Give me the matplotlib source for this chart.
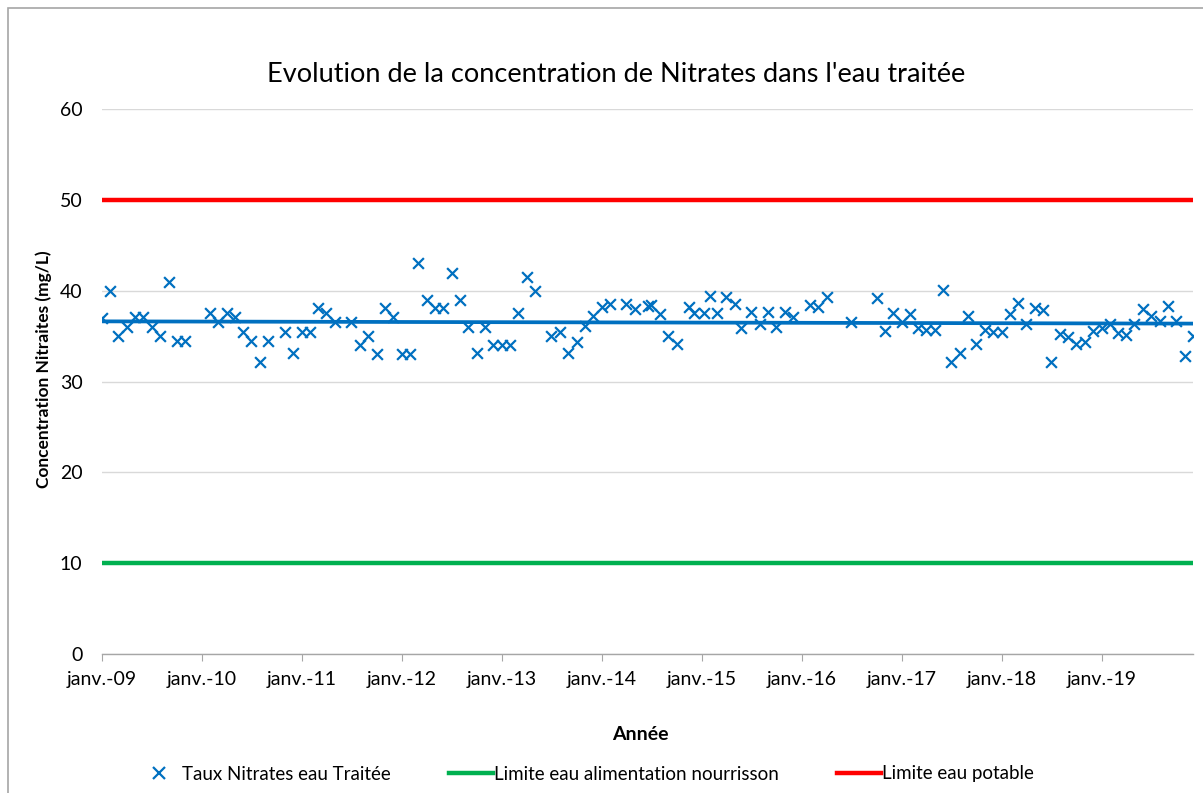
import matplotlib
matplotlib.use("Agg")
import matplotlib.pyplot as plt
import matplotlib.dates as mdates
import numpy as np
import pandas as pd
from matplotlib.lines import Line2D
from matplotlib.patches import Rectangle

plt.rcParams['font.family'] = ['Lato', 'DejaVu Sans']

dates = [
    "2009-01-01", "2009-02-01", "2009-03-01", "2009-04-01", "2009-05-01", "2009-06-01",
    "2009-07-01", "2009-08-01", "2009-09-01", "2009-10-01", "2009-11-01",
    "2010-02-01", "2010-03-01", "2010-04-01", "2010-05-01", "2010-06-01", "2010-07-01",
    "2010-08-01", "2010-09-01", "2010-11-01", "2010-12-01",
    "2011-01-01", "2011-02-01", "2011-03-01", "2011-04-01", "2011-05-01", "2011-07-01",
    "2011-08-01", "2011-09-01", "2011-10-01", "2011-11-01", "2011-12-01",
    "2012-01-01", "2012-02-01", "2012-03-01", "2012-04-01", "2012-05-01", "2012-06-01",
    "2012-07-01", "2012-08-01", "2012-09-01", "2012-10-01", "2012-11-01", "2012-12-01",
    "2013-01-01", "2013-02-01", "2013-03-01", "2013-04-01", "2013-05-01", "2013-07-01",
    "2013-08-01", "2013-09-01", "2013-10-01", "2013-11-01", "2013-12-01",
    "2014-01-01", "2014-02-01", "2014-04-01", "2014-05-01", "2014-06-18", "2014-07-01",
    "2014-08-01", "2014-09-01", "2014-10-01", "2014-11-15", "2014-12-05",
    "2015-01-10", "2015-02-01", "2015-02-26", "2015-04-01", "2015-05-01", "2015-05-25",
    "2015-07-01", "2015-08-01", "2015-09-01", "2015-10-01", "2015-11-01", "2015-12-01",
    "2016-02-01", "2016-03-01", "2016-04-01", "2016-07-01", "2016-10-01", "2016-11-01",
    "2016-12-01",
    "2017-01-01", "2017-02-01", "2017-03-01", "2017-04-01", "2017-05-01", "2017-06-01",
    "2017-07-01", "2017-08-01", "2017-09-01", "2017-10-01", "2017-11-01", "2017-12-01",
    "2018-01-01", "2018-02-01", "2018-03-01", "2018-04-01", "2018-05-01", "2018-06-01",
    "2018-07-01", "2018-08-01", "2018-09-01", "2018-10-01", "2018-11-01", "2018-12-01",
    "2019-01-01", "2019-02-01", "2019-03-01", "2019-04-01", "2019-05-01", "2019-06-01",
    "2019-07-01", "2019-08-01", "2019-09-01", "2019-10-01", "2019-11-01", "2019-12-01",
]
nitrates = [
    37.0, 40.0, 35.0, 36.0, 37.1, 37.1,
    36.0, 35.0, 41.0, 34.5, 34.5,
    37.5, 36.5, 37.5, 37.1, 35.5, 34.5,
    32.1, 34.5, 35.5, 33.1,
    35.5, 35.5, 38.1, 37.5, 36.5, 36.5,
    34.0, 35.0, 33.0, 38.1, 37.1,
    33.0, 33.0, 43.0, 39.0, 38.1, 38.1,
    42.0, 39.0, 36.0, 33.1, 36.0, 34.0,
    34.0, 34.0, 37.5, 41.5, 40.0, 35.0,
    35.4, 33.1, 34.4, 36.1, 37.2,
    38.2, 38.5, 38.5, 38.0, 38.3, 38.4,
    37.4, 35.0, 34.1, 38.2, 37.5,
    37.5, 39.4, 37.5, 39.3, 38.5, 35.9,
    37.6, 36.3, 37.6, 36.0, 37.6, 37.1,
    38.4, 38.2, 39.3, 36.5, 39.2, 35.6,
    37.5,
    36.5, 37.4, 35.9, 35.7, 35.7, 40.1,
    32.1, 33.1, 37.2, 34.1, 35.7, 35.5,
    35.5, 37.4, 38.6, 36.3, 38.1, 37.9,
    32.1, 35.2, 34.9, 34.1, 34.3, 35.6,
    35.9, 36.3, 35.3, 35.1, 36.3, 38.0,
    37.2, 36.7, 38.3, 36.7, 32.8, 35.0,
]
limite_nourrisson = 10
limite_potable = 50
tick_years = list(range(2009, 2020))
tick_labels = ["janv.-%02d" % (y % 100) for y in tick_years]

title = "Evolution de la concentration de Nitrates dans l'eau traitée"
xlabel = "Année"
ylabel = "Concentration Nitraites (mg/L)"
labels = ["Taux Nitrates eau Traitée", "Limite eau alimentation nourrisson", "Limite eau potable"]

blue = "#0070C0"
green = "#00B050"
red = "#FF0000"

W, H = 1203, 793
fig = plt.figure(figsize=(W / 100, H / 100), dpi=100)
ax = fig.add_axes([102 / W, 1 - 654 / H, (1193 - 102) / W, (654 - 109) / H])

x = pd.to_datetime(dates)
xn = mdates.date2num(x)
y = np.array(nitrates)

xmin, xmax = xn.min(), xn.max()
ax.set_xlim(xmin, xmax)
ax.set_ylim(0, 60)

ax.set_yticks(np.arange(0, 61, 10))
ax.grid(axis='y', color='#D9D9D9', linewidth=1.0, zorder=0)

ax.axhline(limite_nourrisson, color=green, linewidth=3.2, zorder=2, solid_capstyle='butt')
ax.axhline(limite_potable, color=red, linewidth=3.2, zorder=2, solid_capstyle='butt')

ax.scatter(xn, y, marker='x', s=60, color=blue, linewidths=1.6, zorder=4)

coef = np.polyfit(xn, y, 1)
tx = np.array([xmin, xmax])
ax.plot(tx, np.polyval(coef, tx), color=blue, linewidth=2.7, zorder=3, solid_capstyle='butt')

ticks = mdates.date2num(pd.to_datetime(["%d-01-01" % yy for yy in tick_years]))
ax.set_xticks(ticks)
ax.set_xticklabels(tick_labels)

for s in ['top', 'right', 'left']:
    ax.spines[s].set_visible(False)
ax.spines['bottom'].set_color('#A6A6A6')
ax.spines['bottom'].set_linewidth(1.0)
ax.tick_params(axis='x', direction='out', length=5, color='#A6A6A6', labelsize=14, pad=7, labelcolor='#000000')
ax.tick_params(axis='y', length=0, labelsize=14, pad=14, labelcolor='#000000')

fig.text(616 / W, 1 - 75 / H, title, ha='center', va='center', fontsize=19.5)
fig.text(640 / W, 1 - 735 / H, xlabel, ha='center', va='center', fontsize=14, fontweight='bold')
fig.text(44 / W, 1 - 369 / H, ylabel, ha='center', va='center', rotation=90, fontsize=12.5, fontweight='bold')

handles = [
    Line2D([], [], marker='x', linestyle='none', color=blue, markersize=8, markeredgewidth=1.6),
    Line2D([], [], color=green, linewidth=3.2),
    Line2D([], [], color=red, linewidth=3.2),
]
fig.legend(handles, labels, ncol=3, loc='center', bbox_to_anchor=(585 / W, 1 - 774 / H),
           frameon=False, fontsize=13.5, handlelength=2.35, handletextpad=0.05, columnspacing=3.1)

fig.patches.append(Rectangle((8 / W, -0.05), 1.2, 1 - 8 / H + 0.05, transform=fig.transFigure,
                             fill=False, edgecolor='#A6A6A6', linewidth=1.2))

fig.savefig("out.png", dpi=100)
